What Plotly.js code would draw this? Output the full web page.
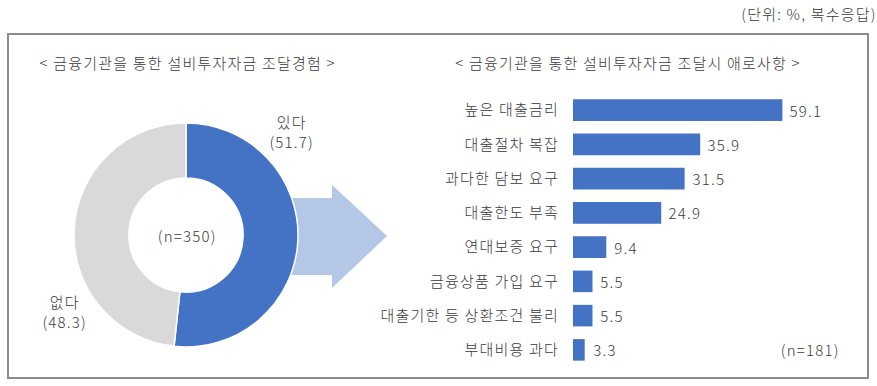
<!DOCTYPE html>
<html><head><meta charset="utf-8">
<script src="https://cdn.plot.ly/plotly-3.0.1.min.js"></script>
<style>html,body{margin:0;padding:0;background:#fff;}#chart{width:877px;height:386px;}#chart text{letter-spacing:1.2px;}</style>
</head><body><div id="chart"></div>
<script>
const pieLabels = ['있다', '없다'];
const pieValues = [51.7, 48.3];
const pieN = '(n=350)';
const barCategories = ['높은 대출금리', '대출절차 복잡', '과다한 담보 요구', '대출한도 부족', '연대보증 요구', '금융상품 가입 요구', '대출기한 등 상환조건 불리', '부대비용 과다'];
const barValues = [59.1, 35.9, 31.5, 24.9, 9.4, 5.5, 5.5, 3.3];
const barN = '(n=181)';
const leftTitle = '< 금융기관을 통한 설비투자자금 조달경험 >';
const rightTitle = '< 금융기관을 통한 설비투자자금 조달시 애로사항 >';
const unitNote = '(단위: %, 복수응답)';

const W = 877, H = 386;
const FONT = '"Noto Sans CJK KR", "Noto Sans", sans-serif';
const TXT = '#3a3a3a';
const FS = 15;
const px = x => x / W;
const py = y => 1 - y / H;

const pie = {
  type: 'pie', labels: pieLabels, values: pieValues, hole: 0.51, sort: false,
  direction: 'clockwise', rotation: 0, textinfo: 'none', hoverinfo: 'label+value',
  marker: {colors: ['#4472C4', '#D9D9D9'], line: {color: '#ffffff', width: 1.5}},
  domain: {x: [px(74), px(298)], y: [py(347), py(123)]}, showlegend: false
};
const bar = {
  type: 'bar', orientation: 'h', x: barValues, y: barCategories,
  marker: {color: '#4472C4'}, xaxis: 'x', yaxis: 'y', showlegend: false, hoverinfo: 'x+y'
};

const annotations = [
  {text: unitNote, x: px(871), y: py(13), xanchor: 'right', yanchor: 'middle'},
  {text: leftTitle, x: px(187), y: py(62), xanchor: 'center', yanchor: 'middle'},
  {text: rightTitle, x: px(628), y: py(62), xanchor: 'center', yanchor: 'middle'},
  {text: pieLabels[0] + '<br>(' + pieValues[0].toFixed(1) + ')', x: px(291), y: py(131), xanchor: 'center', yanchor: 'middle'},
  {text: pieLabels[1] + '<br>(' + pieValues[1].toFixed(1) + ')', x: px(64), y: py(311), xanchor: 'center', yanchor: 'middle'},
  {text: pieN, x: px(187), y: py(235), xanchor: 'center', yanchor: 'middle'},
  {text: barN, x: px(810), y: py(349), xanchor: 'center', yanchor: 'middle'}
].map(a => Object.assign({xref: 'paper', yref: 'paper', showarrow: false, font: {family: FONT, size: FS, color: TXT, weight: 300}}, a));

barValues.forEach((v, i) => annotations.push({
  xref: 'x', yref: 'y', x: v, y: barCategories[i], text: v.toFixed(1), showarrow: false,
  xanchor: 'left', yanchor: 'middle', xshift: 8, font: {family: FONT, size: FS, color: TXT, weight: 300}
}));

const shapes = [
  {type: 'rect', xref: 'paper', yref: 'paper', x0: px(8), x1: px(868), y0: py(378), y1: py(34),
   line: {color: '#8c8c8c', width: 2}, fillcolor: 'rgba(0,0,0,0)', layer: 'below'},
  {type: 'path', xref: 'paper', yref: 'paper', layer: 'below',
   path: 'M' + px(290) + ',' + py(198) + ' L' + px(332) + ',' + py(198) + ' L' + px(332) + ',' + py(185) +
         ' L' + px(387) + ',' + py(236) + ' L' + px(332) + ',' + py(288) + ' L' + px(332) + ',' + py(275) +
         ' L' + px(290) + ',' + py(275) + ' Z',
   fillcolor: '#B4C7E7', line: {width: 0}}
];

const layout = {
  width: W, height: H, margin: {l: 0, r: 0, t: 0, b: 0},
  paper_bgcolor: '#ffffff', plot_bgcolor: 'rgba(0,0,0,0)',
  font: {family: FONT, size: FS, color: TXT, weight: 300},
  xaxis: {domain: [px(573), px(860)], range: [0, 81], visible: false, fixedrange: true},
  yaxis: {domain: [py(367), py(93)], autorange: 'reversed', type: 'category',
          showgrid: false, zeroline: false, showline: false, ticks: '', ticklabelstandoff: 13,
          tickfont: {family: FONT, size: FS, color: TXT, weight: 300}, fixedrange: true},
  bargap: 0.37,
  annotations: annotations, shapes: shapes
};

Plotly.newPlot('chart', [bar, pie], layout, {displayModeBar: false, staticPlot: true});
</script></body></html>
